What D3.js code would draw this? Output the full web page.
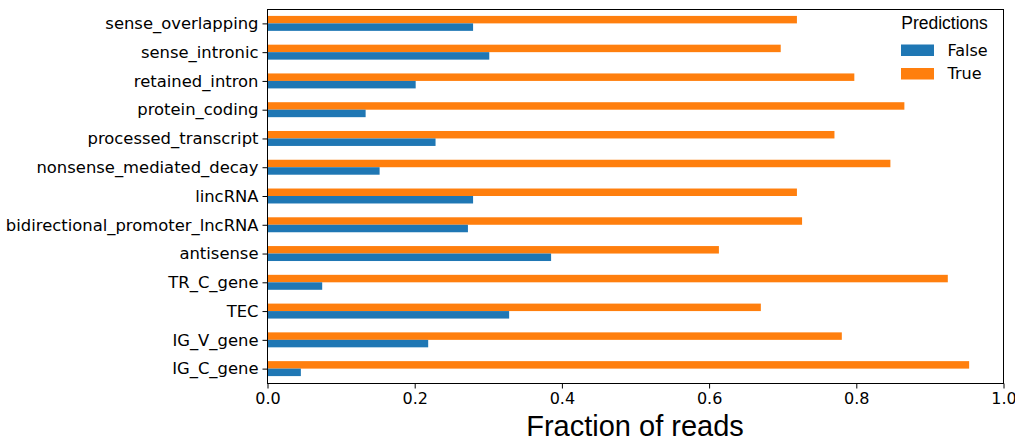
<!DOCTYPE html>
<html>
<head>
<meta charset="utf-8">
<script src="https://cdn.jsdelivr.net/npm/d3@7"></script>
<style>
  html, body { margin: 0; padding: 0; background: #fff; }
  svg { display: block; }
</style>
</head>
<body>
<svg id="chart" width="1015" height="442"></svg>
<script>
// Biotypes, listed top to bottom as drawn
const categories = [
  "sense_overlapping", "sense_intronic", "retained_intron", "protein_coding",
  "processed_transcript", "nonsense_mediated_decay", "lincRNA",
  "bidirectional_promoter_lncRNA", "antisense", "TR_C_gene", "TEC",
  "IG_V_gene", "IG_C_gene"
];
// Fraction of reads predicted False / True per biotype
const falseValues = [0.280, 0.302, 0.202, 0.134, 0.229, 0.153, 0.280, 0.273, 0.386, 0.075, 0.329, 0.219, 0.046];
const trueValues  = [0.720, 0.698, 0.798, 0.866, 0.771, 0.847, 0.720, 0.727, 0.614, 0.925, 0.671, 0.781, 0.954];
const xTicks = [0, 0.2, 0.4, 0.6, 0.8, 1.0];
const seriesNames = ["False", "True"];
const seriesColors = ["#1f77b4", "#ff7f0e"];

const svg = d3.select("#chart");
const margin = { left: 267, right: 12, top: 9, bottom: 59 };
const W = 1015, H = 442;
const x0 = margin.left, x1 = W - margin.right, y0 = margin.top, y1 = H - margin.bottom;

const x = d3.scaleLinear().domain([0, 1]).range([x0, x1]);
const y = d3.scaleBand().domain(categories).range([y0, y1]).padding(0);
const barH = y.bandwidth() * 0.26;

const rows = categories.map((c, i) => ({ cat: c, f: falseValues[i], t: trueValues[i] }));

// True bars sit just above each category centre, False bars just below
const g = svg.append("g");
g.selectAll("rect.true").data(rows).join("rect")
  .attr("class", "true")
  .attr("x", x(0))
  .attr("y", d => y(d.cat) + y.bandwidth() / 2 - barH)
  .attr("width", d => x(d.t) - x(0))
  .attr("height", barH)
  .attr("fill", seriesColors[1]);
g.selectAll("rect.false").data(rows).join("rect")
  .attr("class", "false")
  .attr("x", x(0))
  .attr("y", d => y(d.cat) + y.bandwidth() / 2)
  .attr("width", d => x(d.f) - x(0))
  .attr("height", barH)
  .attr("fill", seriesColors[0]);

// Frame
svg.append("rect")
  .attr("x", x0 + 0.5).attr("y", y0 + 0.5)
  .attr("width", x1 - x0).attr("height", y1 - y0)
  .attr("fill", "none").attr("stroke", "#000").attr("stroke-width", 1);

// Axes
const xAxis = d3.axisBottom(x).tickValues(xTicks).tickFormat(d3.format(".1f"))
  .tickSize(5).tickPadding(4);
const xg = svg.append("g").attr("transform", `translate(0.5,${y1 + 0.5})`).call(xAxis);
xg.select(".domain").remove();
xg.selectAll("text").attr("font-family", "DejaVu Sans").attr("font-size", 16).attr("fill", "#000");
xg.selectAll("line").attr("stroke", "#000");

const yAxis = d3.axisLeft(y).tickSize(5).tickPadding(4);
const yg = svg.append("g").attr("transform", `translate(${x0 + 0.5},0.5)`).call(yAxis);
yg.select(".domain").remove();
yg.selectAll("text").attr("font-family", "DejaVu Sans").attr("font-size", 16.4).attr("fill", "#000");
yg.selectAll("line").attr("stroke", "#000");

// Axis title
svg.append("text")
  .attr("x", (x0 + x1) / 2).attr("y", 436)
  .attr("text-anchor", "middle")
  .attr("font-family", "Liberation Sans, Arial, sans-serif")
  .attr("font-size", 29)
  .text("Fraction of reads");

// Legend
const lg = svg.append("g");
lg.append("text")
  .attr("x", 944.5).attr("y", 29)
  .attr("text-anchor", "middle")
  .attr("font-family", "Liberation Sans, Arial, sans-serif")
  .attr("font-size", 17.5)
  .text("Predictions");
seriesNames.forEach((name, i) => {
  const yy = 44.5 + i * 23.5;
  lg.append("rect").attr("x", 901).attr("y", yy).attr("width", 33).attr("height", 11.5)
    .attr("fill", seriesColors[i]);
  lg.append("text").attr("x", 947.5).attr("y", yy + 11.2)
    .attr("font-family", "DejaVu Sans").attr("font-size", 16)
    .text(name);
});
</script>
</body>
</html>
